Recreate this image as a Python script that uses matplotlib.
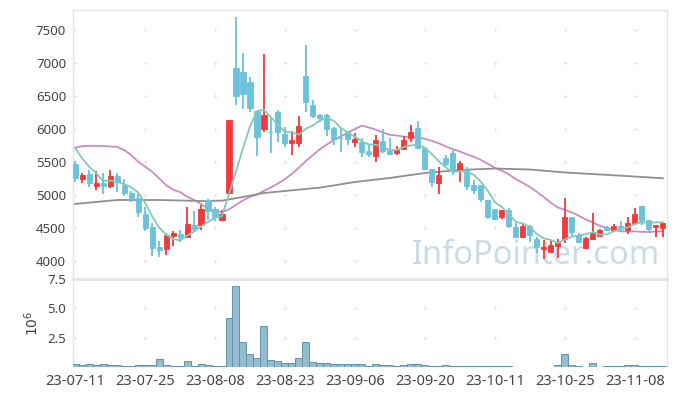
import numpy as np
import pandas as pd
import matplotlib
matplotlib.use('Agg')
import matplotlib.pyplot as plt

plt.rcParams['font.family'] = ['Noto Sans', 'DejaVu Sans']

# daily candles (trading days 23-07-11 .. 23-11-14)
opens = [5470, 5242, 5318, 5136, 5182, 5136, 5288, 5151, 5030, 4954,
         4712, 4515, 4212, 4182, 4379, 4409, 4364, 4545, 4545, 4924,
         4788, 4621, 5030, 6924, 6864, 6712, 6273, 6000, 5960, 6258,
         5924, 5788, 5788, 6803, 6364, 6212, 6212, 6015, 5870, 5955,
         5803, 5803, 5667, 5591, 5818, 5682, 5636, 5697, 5864, 6015,
         5712, 5394, 5182, 5561, 5636, 5379, 5394, 5151, 5151, 4924,
         4788, 4667, 4773, 4515, 4364, 4530, 4333, 4182, 4136, 4227,
         4333, 4667, 4394, 4197, 4333, 4379, 4515, 4470, 4530, 4470,
         4576, 4833, 4621, 4515, 4500]
highs = [5515, 5333, 5379, 5364, 5333, 5379, 5333, 5242, 5061, 5015,
         4818, 4576, 4303, 4424, 4454, 4470, 4818, 4758, 4848, 4939,
         4818, 4773, 6136, 7697, 7151, 6788, 6273, 7136, 6182, 6288,
         6030, 5970, 6197, 7273, 6439, 6227, 6227, 6030, 6000, 5970,
         5939, 5864, 5758, 5909, 6000, 5864, 5742, 5894, 6061, 6121,
         5712, 5394, 5424, 5606, 5682, 5515, 5424, 5227, 5151, 4924,
         4788, 4773, 4803, 4576, 4561, 4545, 4364, 4318, 4318, 4333,
         4954, 4667, 4424, 4364, 4727, 4485, 4530, 4561, 4606, 4667,
         4803, 4833, 4621, 4545, 4591]
lows = [5197, 5182, 5121, 5076, 5015, 5106, 5045, 4985, 4894, 4667,
        4454, 4076, 4061, 4091, 4227, 4288, 4364, 4454, 4470, 4621,
        4606, 4621, 5030, 6364, 6303, 6258, 5591, 5955, 5636, 5803,
        5727, 5606, 5727, 6258, 6167, 6106, 5894, 5758, 5652, 5758,
        5727, 5576, 5576, 5500, 5636, 5606, 5606, 5682, 5803, 5697,
        5394, 5121, 5015, 5439, 5303, 5197, 5076, 5015, 4894, 4636,
        4621, 4636, 4500, 4348, 4348, 4288, 4121, 4030, 4136, 4045,
        4273, 4364, 4273, 4182, 4318, 4379, 4454, 4454, 4439, 4409,
        4561, 4545, 4424, 4364, 4364]
closes = [5257, 5303, 5182, 5182, 5136, 5288, 5197, 5030, 4939, 4742,
          4500, 4197, 4167, 4394, 4424, 4364, 4561, 4485, 4788, 4758,
          4667, 4712, 6136, 6500, 6530, 6318, 5879, 6212, 5950, 5955,
          5788, 5833, 6045, 6409, 6197, 6167, 6000, 5848, 5860, 5848,
          5848, 5652, 5621, 5833, 5667, 5621, 5682, 5833, 5955, 5712,
          5394, 5197, 5303, 5470, 5364, 5485, 5136, 5076, 4939, 4667,
          4636, 4773, 4530, 4364, 4530, 4394, 4212, 4212, 4242, 4288,
          4667, 4439, 4288, 4348, 4439, 4470, 4470, 4530, 4500, 4576,
          4712, 4606, 4485, 4545, 4576]
volume_m = [0.26, 0.17, 0.26, 0.17, 0.26, 0.17, 0.17, 0.09, 0.09, 0.17,
            0.17, 0.17, 0.65, 0.17, 0.09, 0.09, 0.48, 0.06, 0.26, 0.17,
            0.09, 0.09, 4.15, 6.88, 2.10, 1.08, 0.74, 3.47, 0.57, 0.49,
            0.34, 0.34, 0.74, 2.10, 0.40, 0.34, 0.34, 0.26, 0.26, 0.26,
            0.26, 0.26, 0.06, 0.26, 0.17, 0.17, 0.08, 0.17, 0.26, 0.26,
            0.17, 0.08, 0.08, 0.17, 0.08, 0.08, 0.08, 0.08, 0.08, 0.08,
            0.08, 0.08, 0.08, 0.02, 0.02, 0.02, 0.02, 0.02, 0.02, 0.17,
            1.08, 0.17, 0.08, 0.02, 0.34, 0.02, 0.06, 0.06, 0.06, 0.17,
            0.17, 0.06, 0.06, 0.06, 0.06]

# moving-average values before enough closes exist
ma5_head = [5715, 5556, 5430, 5333]
ma20_head = [5715, 5740, 5745, 5745, 5742, 5735, 5730, 5682, 5606, 5505,
             5430, 5353, 5253, 5150, 5080, 5045, 4975, 4925, 4865]
# long moving average, sampled
malong_idx = [0, 6, 12, 18, 21, 24, 27, 30, 35, 40, 45, 50, 55, 60, 65, 70, 75, 80, 84]
malong_val = [4864, 4924, 4924, 4909, 4914, 4970, 5030, 5061, 5111, 5197,
              5258, 5333, 5379, 5401, 5386, 5341, 5311, 5280, 5253]

tick_pos = [0, 10, 20, 30, 40, 50, 60, 70, 80]
tick_labels = ['23-07-11', '23-07-25', '23-08-08', '23-08-23', '23-09-06',
               '23-09-20', '23-10-11', '23-10-25', '23-11-08']
price_ticks = [4000, 4500, 5000, 5500, 6000, 6500, 7000, 7500]
vol_ticks = [2.5, 5.0, 7.5]

df = pd.DataFrame({'open': opens, 'high': highs, 'low': lows,
                   'close': closes, 'vol': volume_m})
x = np.arange(len(df))
ma5 = df['close'].rolling(5).mean().to_numpy()
ma5[:4] = ma5_head
ma20 = df['close'].rolling(20).mean().to_numpy()
ma20[:19] = ma20_head

UP = '#ef3b3b'
DOWN = '#6cc2da'
txt = '#444444'
light = '#e4e4e4'

fig = plt.figure(figsize=(6.77, 3.96), dpi=100)
ax = fig.add_axes([0.1078, 0.2955, 0.8774, 0.6792])
axv = fig.add_axes([0.1078, 0.0732, 0.8774, 0.2223], sharex=ax)

up = df['close'] >= df['open']
colors = np.where(up, UP, DOWN)
ax.vlines(x, df['low'], df['high'], colors=colors, linewidth=1.3, zorder=3)
body_lo = np.minimum(df['open'], df['close'])
body_h = (df['close'] - df['open']).abs()
ax.bar(x, body_h, bottom=body_lo, width=0.72, color=colors,
       edgecolor=colors, linewidth=0.6, zorder=4)

ax.plot(x, ma5, color='#86c7b9', linewidth=1.3, zorder=5)
ax.plot(x, ma20, color='#c98cc3', linewidth=1.3, zorder=2)
ax.plot(malong_idx, malong_val, color='#8f8f8f', linewidth=1.3, zorder=2)

ax.text(0.988, 0.025, 'InfoPointer.com', transform=ax.transAxes,
        ha='right', va='bottom', fontsize=23.5, color='#c9dce6', zorder=1)

ax.set_xlim(-0.3, 84.6)
ax.set_ylim(3727, 7803)
ax.set_yticks(price_ticks)
ax.tick_params(axis='y', length=0, labelsize=9.5, labelcolor=txt, pad=5)
ax.tick_params(axis='x', length=0, labelbottom=False)

gx, gy = np.meshgrid(tick_pos, price_ticks)
ax.scatter(gx.ravel(), gy.ravel(), marker='+', s=10, color='#e2e2e2',
           linewidths=0.6, zorder=0)

axv.bar(x, df['vol'], width=1.0, color='#93bccf', edgecolor='#5f93ad',
        linewidth=0.7, zorder=3)
axv.set_ylim(0, 7.5)
axv.set_yticks(vol_ticks)
axv.set_yticklabels(['2.5', '5.0', '7.5'])
axv.set_xticks(tick_pos)
axv.set_xticklabels(tick_labels)
axv.tick_params(axis='x', length=0, labelsize=10.5, labelcolor=txt, pad=5)
axv.tick_params(axis='y', length=0, labelsize=9.5, labelcolor=txt, pad=5)
axv.set_ylabel(r'$10^6$', color=txt, fontsize=10)
vx, vy = np.meshgrid(tick_pos, [2.5, 5.0])
axv.scatter(vx.ravel(), vy.ravel(), marker='+', s=10, color='#e2e2e2',
            linewidths=0.6, zorder=0)

for a in (ax, axv):
    for s in a.spines.values():
        s.set_color(light)
        s.set_linewidth(1)
ax.spines['bottom'].set_visible(False)
axv.spines['top'].set_linewidth(2)
axv.spines['bottom'].set_visible(False)
# pin the 10^6 label position like the reference
axv.yaxis.set_label_coords(-0.052, 0.5)

fig.savefig('out.png', dpi=100)
